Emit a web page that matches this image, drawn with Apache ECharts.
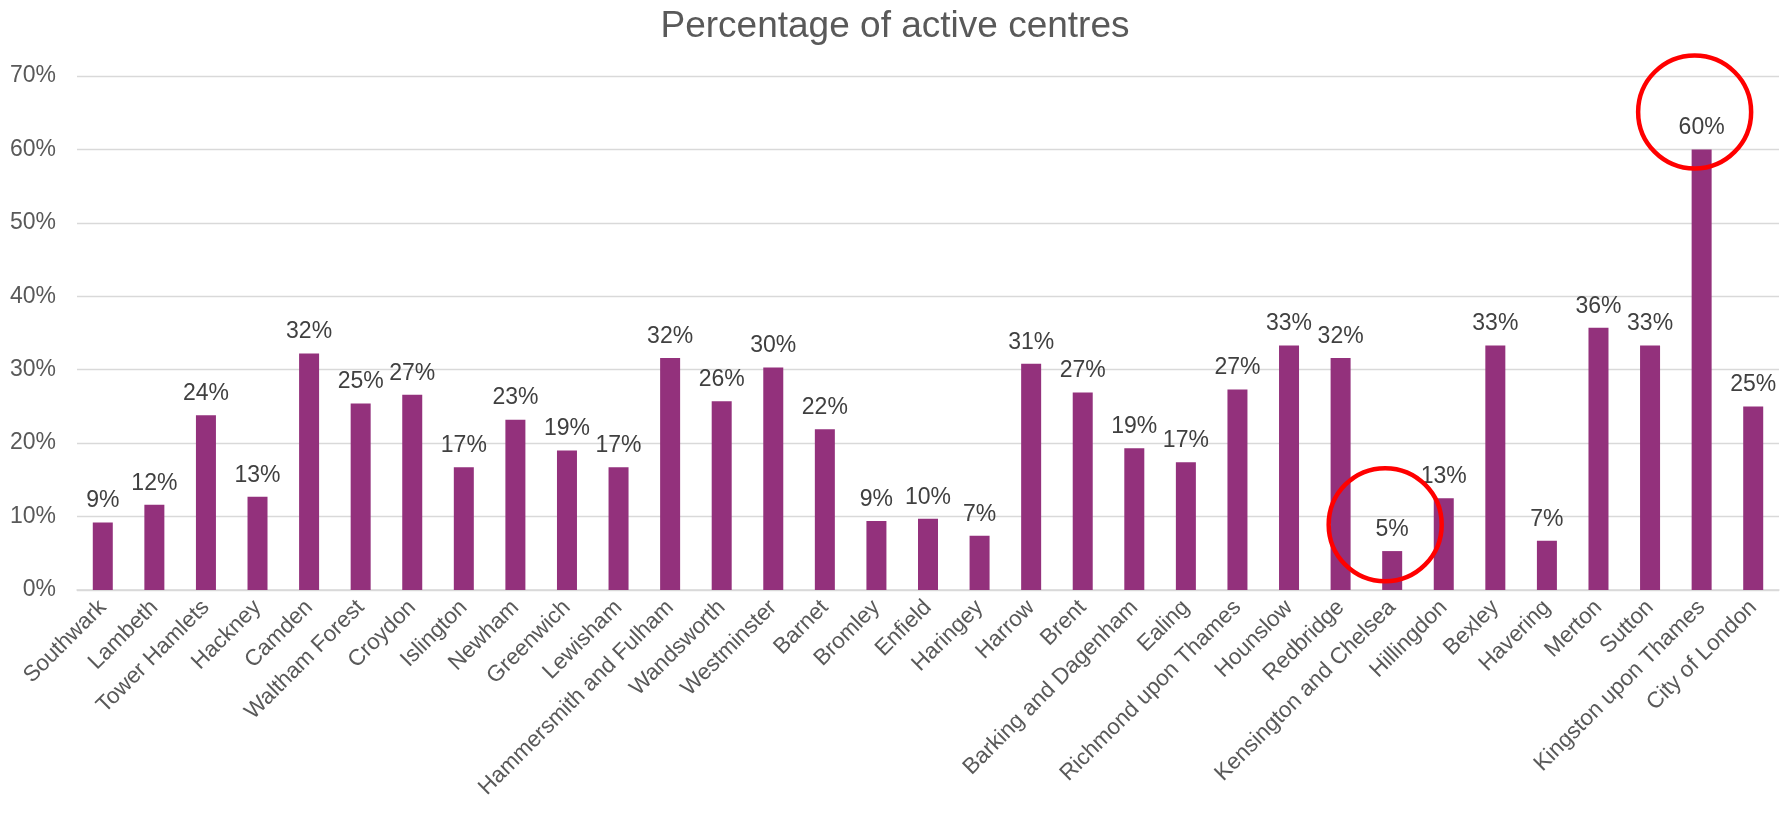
<!DOCTYPE html>
<html>
<head>
<meta charset="utf-8">
<title>Percentage of active centres</title>
<script src="https://cdn.jsdelivr.net/npm/echarts@6/dist/echarts.min.js"></script>
<style>
  html, body { margin: 0; padding: 0; background: #fff; }
  #chart { width: 1790px; height: 822px; }
</style>
</head>
<body>
<div id="chart"></div>
<script>
// boroughs, in the order shown
const boroughs = [
  'Southwark', 'Lambeth', 'Tower Hamlets', 'Hackney', 'Camden', 'Waltham Forest',
  'Croydon', 'Islington', 'Newham', 'Greenwich', 'Lewisham', 'Hammersmith and Fulham',
  'Wandsworth', 'Westminster', 'Barnet', 'Bromley', 'Enfield', 'Haringey', 'Harrow',
  'Brent', 'Barking and Dagenham', 'Ealing', 'Richmond upon Thames', 'Hounslow',
  'Redbridge', 'Kensington and Chelsea', 'Hillingdon', 'Bexley', 'Havering', 'Merton',
  'Sutton', 'Kingston upon Thames', 'City of London'
]

// % of centres that are active
const activePct = [
  9.2, 11.6, 23.8, 12.7, 32.2, 25.4,
  26.6, 16.7, 23.2, 19.0, 16.7, 31.6,
  25.7, 30.3, 21.9, 9.4, 9.7, 7.4, 30.8,
  26.9, 19.3, 17.4, 27.3, 33.3,
  31.6, 5.3, 12.5, 33.3, 6.7, 35.7,
  33.3, 60.0, 25.0
]

// y axis ticks
const yMin = 0
const yMax = 70
const yStep = 10

// red rings drawn round two boroughs
const highlighted = ['Kensington and Chelsea', 'Kingston upon Thames']
const ringCentre = [8.9, 65.1]   // value at the ring's centre

const chart = echarts.init(document.getElementById('chart'), null, { renderer: 'canvas' })

const textGrey = '#595959'
const labelGrey = '#404040'
const gridGrey = '#d9d9d9'
const font = 'Liberation Sans, Arial, sans-serif'

const option = {
  animation: false,
  textStyle: { fontFamily: font },
  title: {
    text: 'Percentage of active centres',
    left: 'center',
    top: 3,
    textStyle: {
      fontFamily: font,
      fontSize: 37,
      fontWeight: 'normal',
      color: textGrey
    }
  },
  grid: {
    left: 77,
    right: 11,
    top: 76,
    bottom: 232,
    containLabel: false
  },
  xAxis: {
    type: 'category',
    data: boroughs,
    axisLine: { lineStyle: { color: gridGrey, width: 1.5 } },
    axisTick: { show: false },
    axisLabel: {
      interval: 0,
      rotate: 45,
      margin: 14,
      fontSize: 22.5,
      fontFamily: font,
      color: textGrey
    }
  },
  yAxis: {
    type: 'value',
    min: yMin,
    max: yMax,
    interval: yStep,
    axisLine: { show: false },
    axisTick: { show: false },
    axisLabel: {
      margin: 21,
      fontSize: 23,
      fontFamily: font,
      color: textGrey,
      formatter: '{value}%'
    },
    splitLine: { lineStyle: { color: gridGrey, width: 1.3 } }
  },
  series: [
    {
      type: 'bar',
      name: 'Active centres',
      data: activePct,
      barWidth: 20,
      itemStyle: { color: '#93317c' },
      label: {
        show: true,
        position: 'top',
        distance: 10,
        fontSize: 23,
        fontFamily: font,
        color: labelGrey,
        formatter: p => Math.round(p.value) + '%'
      },
      markPoint: {
        symbol: 'circle',
        symbolSize: 113,
        symbolOffset: [-7, 0],
        silent: true,
        label: { show: false },
        itemStyle: {
          color: 'rgba(0,0,0,0)',
          borderColor: '#ff0000',
          borderWidth: 4.5
        },
        data: highlighted.map((b, i) => ({ coord: [b, ringCentre[i]] }))
      }
    }
  ]
}

chart.setOption(option)
</script>
</body>
</html>
